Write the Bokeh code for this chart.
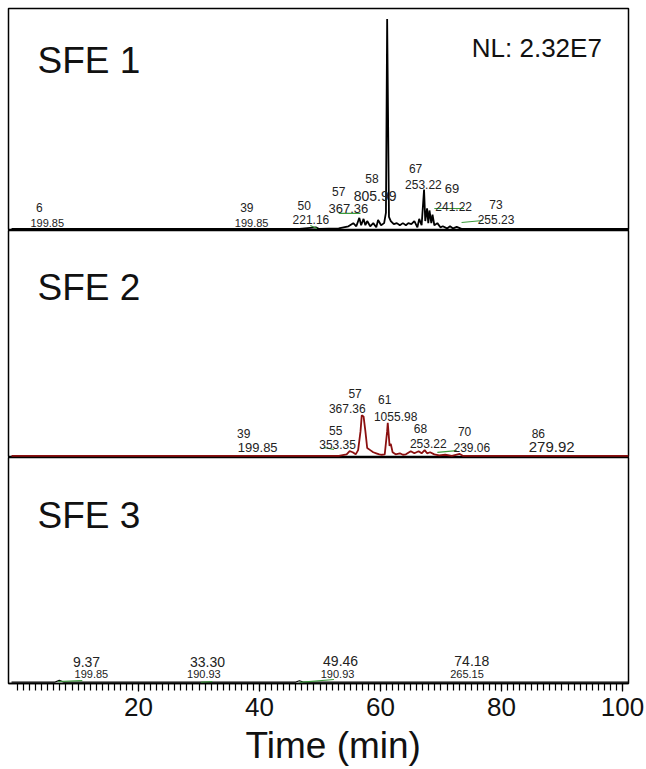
from bokeh.plotting import figure
from bokeh.layouts import column
from bokeh.models import Range1d, FixedTicker, ColumnDataSource, Title
from bokeh.core.properties import value
from bokeh.embed import file_html
from bokeh.resources import INLINE

FONT = "Liberation Sans"

# ---------------- data: retention time (min) vs relative abundance (% of NL)
sfe1_time = [-1, 46.6, 49.3, 49.8, 53.1, 54.7, 55.5, 56.0, 56.5, 56.8, 57.2, 57.5, 57.8, 58.3, 58.8,
             59.3, 59.6, 60.1, 60.6, 60.9, 61.1, 61.4, 61.7, 62.2, 62.7, 63.2, 63.7, 64.2, 64.6, 65.1,
             65.6, 66.1, 66.4, 66.8, 67.2, 67.4, 67.7, 67.9, 68.1, 68.4, 68.6, 68.9, 69.4, 69.9, 70.3,
             71.0, 71.5, 72.0, 72.6, 73.4, 101]
sfe1_int = [0.3, 0.3, 1.0, 0.3, 0.5, 1.5, 3, 1.5, 5.5, 2, 5, 2, 4, 1.5, 3,
            1, 4.5, 2, 3, 8, 100, 6, 4, 2.5, 3, 2, 3, 2, 3, 2.5,
            4, 1, 5, 2, 19, 4, 10, 3, 9, 3, 7, 2, 3, 1, 1.5,
            0.5, 1.5, 0.5, 1.2, 0.3, 0.3]

sfe2_time = [-1, 53.1, 54.4, 54.9, 55.4, 55.9, 56.3, 56.7, 56.9, 57.2, 57.5, 57.8, 58.3, 58.8, 59.3,
             59.8, 60.2, 60.7, 61.1, 61.2, 61.5, 61.7, 62.0, 62.5, 63.2, 63.7, 64.2, 65.0, 65.6, 66.3,
             66.8, 67.3, 67.7, 68.2, 68.9, 69.7, 70.7, 71.8, 73.1, 73.6, 101]
sfe2_int = [0.3, 0.3, 1, 2.5, 2, 1, 3, 12, 19.5, 19, 12, 4, 3, 2, 1.5,
            1, 0.8, 1, 12, 16, 5, 6, 2, 1, 1.5, 0.8, 1, 2.5, 1.5, 2.5,
            1.5, 3, 1.5, 2, 1, 0.5, 0.8, 0.3, 1.2, 0.3, 0.3]

sfe3_time = [-1, 6.2, 6.9, 7.6, 46.0, 46.6, 47.2, 101]
sfe3_int = [0.2, 0.2, 1.0, 0.2, 0.2, 0.8, 0.2, 0.2]

# peak annotations (text centres): retention time text / m/z text
rt_text1 = ["6", "39", "50", "57", "58", "67", "69", "73"]
rt_x1 = [3.6, 37.9, 47.4, 53.1, 58.6, 65.8, 71.8, 79.1]
rt_y1 = [10.6, 10.6, 11.5, 18.2, 24.3, 29.1, 19.3, 12.0]
mz_text1 = ["199.85", "199.85", "221.16", "367.36", "805.99", "253.22", "241.22", "255.23"]
mz_x1 = [4.9, 38.7, 48.5, 54.7, 59.1, 67.1, 72.1, 79.1]
mz_y1 = [3.3, 3.3, 4.9, 9.8, 16.1, 21.5, 11.0, 4.9]

rt_text2 = ["39", "55", "57", "61", "68", "70", "86"]
rt_x2 = [37.4, 52.6, 55.8, 60.7, 66.6, 73.9, 86.1]
rt_y2 = [11.0, 12.5, 30.0, 27.2, 13.4, 12.0, 11.0]
mz_text2 = ["199.85", "353.35", "367.36", "1055.98", "253.22", "239.06", "279.92"]
mz_x2 = [39.7, 52.9, 54.5, 62.5, 67.9, 75.1, 88.3]
mz_y2 = [4.1, 5.8, 23.0, 19.1, 6.3, 4.4, 4.4]

rt_text3 = ["9.37", "33.30", "49.46", "74.18"]
rt_x3 = [11.4, 31.4, 53.4, 75.1]
rt_y3 = [9.5, 9.5, 10.0, 10.0]
mz_text3 = ["199.85", "190.93", "190.93", "265.15"]
mz_x3 = [12.2, 30.8, 52.9, 74.3]
mz_y3 = [3.8, 3.8, 3.8, 3.8]

# green leader marks (start time, start level, end time, end level)
lead1 = dict(t0=[48.4, 53.1, 68.9, 73.4], v0=[1.9, 7.6, 9.95, 3.3],
             t1=[49.5, 56.7, 73.8, 76.9], v1=[0.45, 7.6, 9.95, 4.25])
lead2 = dict(t0=[50.6, 69.4], v0=[4.25, 1.9], t1=[52.3, 72.6], v1=[3.3, 2.8])
lead3 = dict(t0=[6.7, 30.3, 46.6], v0=[0.45, 0.0, 0.0], t1=[10.7, 32.2, 52.3], v1=[0.9, 0.45, 1.4])

panel_names = ["SFE 1", "SFE 2", "SFE 3"]
panel_name_x = [3.3, 3.3, 3.3]
panel_name_y = [80.4, 80.4, 79.4]
nl_text = ["NL: 2.32E7"]
nl_x = [96.6]
nl_y = [86.1]
x_title = "Time (min)"
tick_values = [20, 40, 60, 80, 100]
minor_values = list(range(0, 101))

# ---------------- styles
rt_fs1 = ["12px", "12px", "12px", "12px", "12px", "12px", "13px", "12px"]
mz_fs1 = ["11px", "11px", "12px", "13px", "14px", "12px", "12px", "12px"]
rt_fs2 = ["12px"] * 7
mz_fs2 = ["13px", "12px", "12px", "12px", "12px", "12px", "15px"]
rt_fs3 = ["14px"] * 4
mz_fs3 = ["11px"] * 4

GREEN = "#3c9c3c"
LEFT = 8
FRAME_W = 620
W = 646
SCALE = 0.475  # % per pixel


def make_fig(height, frame_h, top_border=0, with_axis=False):
    p = figure(width=W, height=height, output_backend="svg", toolbar_location=None,
               x_range=Range1d(-1.5, 101), y_range=Range1d(-0.5, -0.5 + frame_h * SCALE),
               x_axis_location="below" if with_axis else None, y_axis_location=None,
               min_border_left=LEFT, min_border_right=W - FRAME_W - LEFT,
               min_border_top=top_border, min_border_bottom=0)
    p.grid.visible = False
    p.outline_line_color = "black"
    p.outline_line_width = 1.5
    p.background_fill_color = "white"
    p.border_fill_color = "white"
    return p


def add_labels(p, idx, rx, ry, rt, rfs, mx, my, mz, mfs, lead):
    p.segment(x0="t0", y0="v0", x1="t1", y1="v1", source=ColumnDataSource(lead),
              line_color=GREEN, line_width=1.2)
    p.text(x="x", y="y", text="t", source=ColumnDataSource(dict(x=rx, y=ry, t=rt, fs=rfs)),
           text_font=value(FONT), text_font_size="fs", text_align="center",
           text_baseline="middle", text_color="#222222")
    p.text(x="x", y="y", text="t", source=ColumnDataSource(dict(x=mx, y=my, t=mz, fs=mfs)),
           text_font=value(FONT), text_font_size="fs", text_align="center",
           text_baseline="middle", text_color="#222222")
    p.text(x=[panel_name_x[idx]], y=[panel_name_y[idx]], text=[panel_names[idx]],
           text_font=value(FONT), text_font_size="37px", text_color="#111111",
           text_align="left", text_baseline="middle")


p1 = make_fig(230, 222, top_border=8)
p1.line(sfe1_time, sfe1_int, line_color="black", line_width=1.8)
add_labels(p1, 0, rt_x1, rt_y1, rt_text1, rt_fs1, mz_x1, mz_y1, mz_text1, mz_fs1, lead1)
p1.text(x=nl_x, y=nl_y, text=nl_text, text_font=value(FONT), text_font_size="26px",
        text_align="right", text_baseline="middle", text_color="#111111")

p2 = make_fig(227, 227)
p2.line(sfe2_time, sfe2_int, line_color="#8b1010", line_width=1.8)
add_labels(p2, 1, rt_x2, rt_y2, rt_text2, rt_fs2, mz_x2, mz_y2, mz_text2, mz_fs2, lead2)

p3 = make_fig(312, 226, with_axis=True)
p3.line(sfe3_time, sfe3_int, line_color="black", line_width=1.2)
add_labels(p3, 2, rt_x3, rt_y3, rt_text3, rt_fs3, mz_x3, mz_y3, mz_text3, mz_fs3, lead3)

ax = p3.xaxis[0]
ax.ticker = FixedTicker(ticks=tick_values, minor_ticks=minor_values)
ax.axis_line_width = 1.5
ax.major_tick_in = 0
ax.major_tick_out = 8
ax.minor_tick_in = 0
ax.minor_tick_out = 7
ax.major_tick_line_width = 1.2
ax.minor_tick_line_width = 1.2
ax.major_label_text_font = FONT
ax.major_label_text_font_size = "26px"
ax.major_label_text_color = "#111111"
ax.major_label_standoff = 6

p3.add_layout(Title(text=x_title, align="left", offset=237, standoff=8, text_font=FONT,
                    text_font_size="37px", text_font_style="normal", text_color="#111111"), "below")

layout = column(p1, p2, p3, spacing=0)
open("out.html", "w").write(file_html(layout, INLINE))
